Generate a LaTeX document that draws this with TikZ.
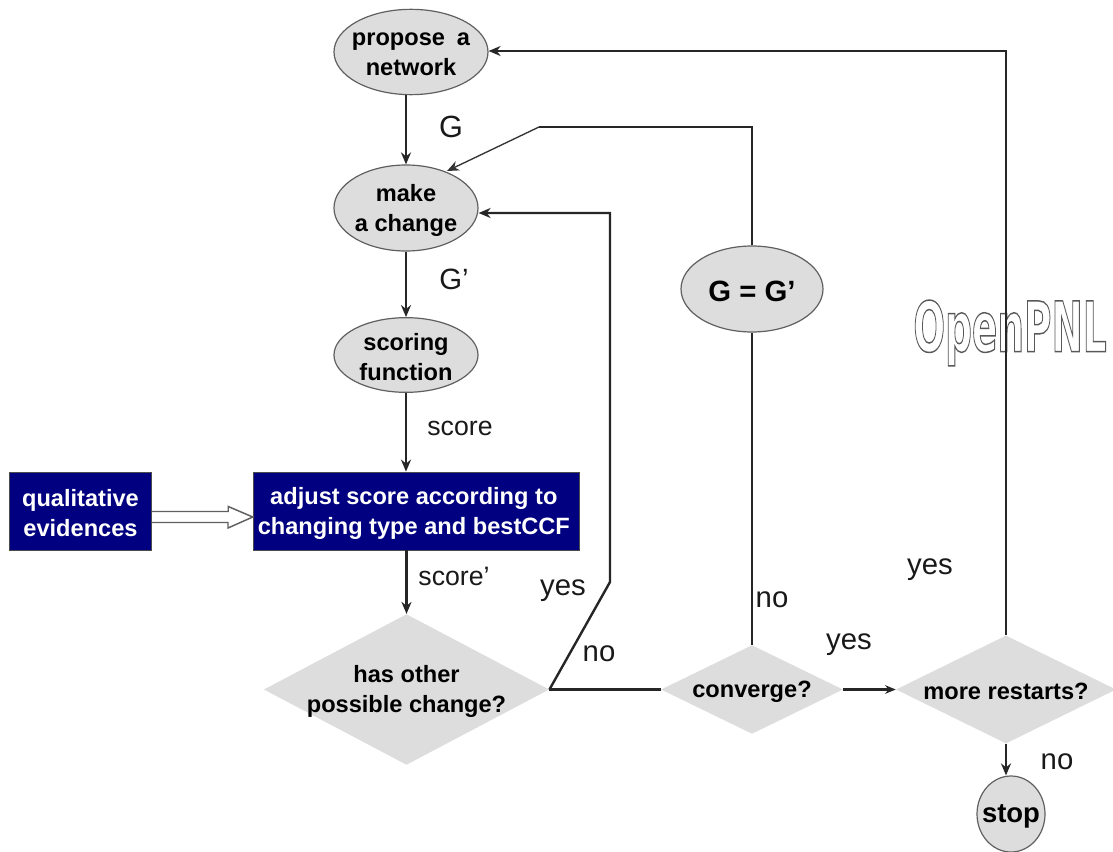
\documentclass[tikz,border=0pt]{standalone}
\usepackage{fontspec}
\setmainfont{Liberation Sans}
\newfontfamily\logofont{DejaVu Sans Bold}
\usetikzlibrary{shapes.geometric,arrows.meta,calc}
\definecolor{shapegray}{HTML}{DDDDDD}
\definecolor{edgegray}{HTML}{606060}
\definecolor{boxnavy}{HTML}{000080}
\tikzset{
  x=0.75pt,y=-0.75pt,
  lbl/.style={font=\fontsize{17.7}{22.5}\selectfont\bfseries,align=center,inner sep=0pt,text=black,yshift=-1.6pt},
  oval/.style={ellipse,draw=edgegray,fill=shapegray,line width=0.9pt,inner sep=0pt},
  gem/.style={diamond,draw=none,fill=shapegray,inner sep=0pt},
  navybox/.style={rectangle,draw=black!70,fill=boxnavy,line width=0.6pt,inner sep=0pt},
  link/.style={draw=black!85,line width=1.8pt,-{Stealth[length=9pt,width=7.5pt]}},
  plain/.style={draw=black!85,line width=1.8pt},
  thinlink/.style={draw=black!80,line width=1pt,-{Stealth[length=9pt,width=7.5pt]}},
  word/.style={font=\fontsize{20}{24}\selectfont,inner sep=0pt,text=black!90},
  bigword/.style={font=\fontsize{22}{26}\selectfont,inner sep=0pt,text=black!90},
  biglbl/.style={lbl,font=\fontsize{#1}{24}\selectfont\bfseries},
}
\begin{document}
\begin{tikzpicture}
\useasboundingbox (0,0) rectangle (1113,852);
\fill[white] (0,0) rectangle (1113,852);
% shapes
\node[oval,minimum width=115.5pt,minimum height=64pt,label={[lbl]center:propose\hspace{4pt} a\\network}] (propose) at (411,52) {};
\node[oval,minimum width=108pt,minimum height=64.5pt,label={[lbl]center:make\\a change}] (change) at (406,208) {};
\node[oval,minimum width=108pt,minimum height=56pt,label={[lbl]center:scoring\\function}] (scoring) at (406,355) {};
\node[oval,minimum width=106.5pt,minimum height=64.5pt,label={[biglbl=22]center:G = G’}] (same) at (752,289) {};
\node[oval,minimum width=51pt,minimum height=57pt,label={[biglbl=20.6]center:stop}] (stop) at (1011,814) {};
\node[navybox,minimum width=107pt,minimum height=58.5pt,label={[lbl,text=white]center:qualitative\\evidences}] (qual) at (80.5,511) {};
\node[navybox,minimum width=245pt,minimum height=58.5pt,label={[lbl,text=white,xshift=-2pt]center:adjust score according to\\changing type and bestCCF}] (adjust) at (416.5,511) {};
\node[gem,minimum width=214pt,minimum height=113pt,label={[lbl]center:has other\\possible change?}] (other) at (406.5,689.5) {};
\node[gem,minimum width=136.5pt,minimum height=66.5pt,label={[lbl]center:converge?}] (conv) at (752,689.5) {};
\node[gem,minimum width=165pt,minimum height=81pt,label={[lbl]center:more restarts?}] (more) at (1006,689.5) {};
% watermark
\node[inner sep=0pt,text=black!65] (logo) at (1010,333) {\scalebox{0.54}[1]{\special{pdf:code 1 Tr 1.1 w}\fontsize{52}{60}\selectfont\logofont OpenPNL\special{pdf:code 0 Tr}}};
% helpers
\coordinate (kneeA) at (610,582);
\coordinate (kneeB) at (610,213);
\coordinate (kneeC) at (752,127);
\coordinate (kneeD) at (539,127);
\coordinate (kneeE) at (1006,51);
\coordinate (changeUp) at (447,171);
% connectors
\draw[link] (propose.south -| change.north) -- (change.north);
\draw[link] (change.south) -- (scoring.north);
\draw[link] (scoring.south) -- (adjust.north -| scoring.south);
\draw[link] (adjust.south -| other.north) -- (other.north);
\draw[link] (other.east) -- (kneeA) -- (kneeB) -- (change.east |- kneeB);
\draw[plain] (other.east) -- (conv.west);
\draw[link,-{Stealth[length=8pt,width=6.5pt]}] (conv.east) -- (more.west);
\draw[plain] (conv.north) -- (same.south);
\draw[plain] (same.north) -- (kneeC) -- (kneeD);
\draw[thinlink] (kneeD) -- (changeUp);
\draw[link] (more.north) -- (kneeE) -- (propose.east |- kneeE);
\draw[link] (more.south) -- (stop.north -| more.south);
\draw[draw=edgegray,fill=white,line width=1.1pt]
  ($(qual.east)+(0,0.5)$) -- ++(76,0) -- ++(0,-5) -- (adjust.west |- 0,517) -- (228,528) -- (228,522.5) -- ($(qual.east)+(0,11.5)$);
% labels
\node[bigword,font=\fontsize{23}{26}\selectfont] (lG) at (451,127) {G};
\node[bigword] (lGp) at (454,279) {G’};
\node[word] (lscore) at (460,428) {score};
\node[word] (lscorep) at (454,576) {score’};
\node[bigword] (lyesA) at (563,591) {yes};
\node[bigword] (lnoA) at (599,654) {no};
\node[bigword] (lnoB) at (772,600) {no};
\node[bigword] (lyesB) at (849,645) {yes};
\node[bigword] (lyesC) at (930,570) {yes};
\node[bigword] (lnoC) at (1057,762) {no};
\end{tikzpicture}
\end{document}
